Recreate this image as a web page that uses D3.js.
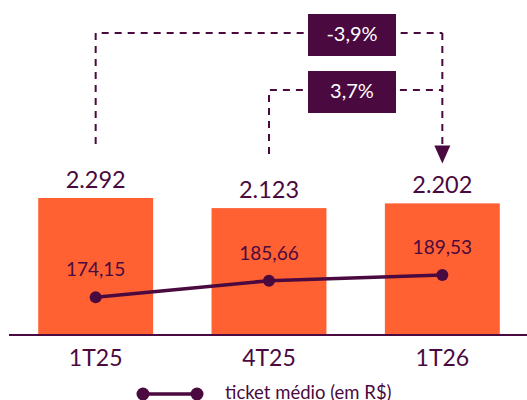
<!DOCTYPE html>
<html>
<head>
  <meta charset="utf-8">
  <style>
    body { margin: 0; background: #fff; }
    svg { display: block; font-family: Lato, "Open Sans", sans-serif; }
    .axis path { stroke: #4a0a40; stroke-width: 2; }
    .axis text { fill: #4a0a40; font-size: 23px; font-family: Lato, sans-serif; }
  </style>
</head>
<body>
  <svg id="chart" width="527" height="400"></svg>
  <script src="https://d3js.org/d3.v7.min.js"></script>
  <script>
    var categories = ['1T25', '4T25', '1T26'];
    var volume = [2292, 2123, 2202];
    var volumeLabels = ['2.292', '2.123', '2.202'];
    var ticket = [174.15, 185.66, 189.53];
    var ticketLabels = ['174,15', '185,66', '189,53'];
    var deltas = [
      { from: 0, to: 2, label: '-3,9%' },
      { from: 1, to: 2, label: '3,7%' }
    ];
    var legendLabel = 'ticket médio (em R$)';

    var orange = '#ff6133',
      purple = '#4a0a40',
      baseY = 335;

    var svg = d3.select('#chart');

    var x = d3.scaleBand()
      .domain(categories)
      .range([9, 529])
      .paddingInner(0.337)
      .paddingOuter(0.1685);

    var yBar = d3.scaleLinear()
      .domain([0, 2292])
      .range([baseY, 198]);

    var yLine = d3.scaleLinear()
      .domain([148, 200])
      .range([baseY, 260]);

    function cx(i) { return x(categories[i]) + x.bandwidth() / 2; }

    // bars
    svg.append('g')
      .selectAll('rect')
      .data(volume)
      .join('rect')
      .attr('x', (d, i) => x(categories[i]))
      .attr('y', d => yBar(d))
      .attr('width', x.bandwidth())
      .attr('height', d => baseY - yBar(d))
      .attr('fill', orange);

    // bar value labels
    svg.append('g')
      .selectAll('text')
      .data(volume)
      .join('text')
      .attr('x', (d, i) => cx(i))
      .attr('y', d => yBar(d) - 10)
      .attr('text-anchor', 'middle')
      .attr('fill', purple)
      .style('font-size', '23.5px')
      .text((d, i) => volumeLabels[i]);

    // axis
    var axis = svg.append('g')
      .attr('class', 'axis')
      .attr('transform', 'translate(0,' + baseY + ')')
      .call(d3.axisBottom(x).tickSize(0).tickPadding(15));
    axis.select('.domain').attr('d', 'M9,0H529');

    // ticket line
    var line = d3.line()
      .x((d, i) => cx(i))
      .y(d => yLine(d));

    svg.append('path')
      .datum(ticket)
      .attr('d', line)
      .attr('fill', 'none')
      .attr('stroke', purple)
      .attr('stroke-width', 3.5);

    svg.append('g')
      .selectAll('circle')
      .data(ticket)
      .join('circle')
      .attr('cx', (d, i) => cx(i))
      .attr('cy', d => yLine(d))
      .attr('r', 6)
      .attr('fill', purple);

    svg.append('g')
      .selectAll('text')
      .data(ticket)
      .join('text')
      .attr('x', (d, i) => cx(i))
      .attr('y', d => yLine(d) - 21)
      .attr('text-anchor', 'middle')
      .attr('fill', purple)
      .style('font-size', '19px')
      .text((d, i) => ticketLabels[i]);

    // delta annotations
    var levels = [33, 90];
    var boxX = 308, boxW = 88, boxH = 42;
    deltas.forEach(function (d, k) {
      var ly = levels[k];
      var x0 = cx(d.from), x1 = cx(d.to);
      var y0 = yBar(volume[d.from]) - 54;
      svg.append('path')
        .attr('d', 'M' + x0 + ',' + y0 + 'V' + ly + 'H' + x1)
        .attr('fill', 'none')
        .attr('stroke', purple)
        .attr('stroke-width', 2)
        .attr('stroke-dasharray', '7,6');
      svg.append('rect')
        .attr('x', boxX)
        .attr('y', ly - 19)
        .attr('width', boxW)
        .attr('height', boxH)
        .attr('fill', purple);
      svg.append('text')
        .attr('x', boxX + boxW / 2)
        .attr('y', ly + 8)
        .attr('text-anchor', 'middle')
        .attr('fill', '#fff')
        .style('font-size', '20px')
        .text(d.label);
    });

    // vertical into last bar, with arrow
    var ax = cx(2), tipY = yBar(volume[2]) - 40;
    svg.append('path')
      .attr('d', 'M' + ax + ',' + levels[0] + 'V' + (tipY - 16))
      .attr('fill', 'none')
      .attr('stroke', purple)
      .attr('stroke-width', 2)
      .attr('stroke-dasharray', '7,6');
    svg.append('path')
      .attr('d', 'M' + (ax - 8) + ',' + (tipY - 18) + 'L' + (ax + 8) + ',' + (tipY - 18) + 'L' + ax + ',' + tipY + 'Z')
      .attr('fill', purple);

    // legend
    var lg = svg.append('g').attr('transform', 'translate(0,394)');
    lg.append('line')
      .attr('x1', 143).attr('x2', 197)
      .attr('stroke', purple).attr('stroke-width', 3.5);
    lg.selectAll('circle')
      .data([143, 197])
      .join('circle')
      .attr('cx', d => d)
      .attr('r', 6.5)
      .attr('fill', purple);
    lg.append('text')
      .attr('x', 225)
      .attr('y', 5)
      .attr('fill', purple)
      .style('font-size', '18.5px')
      .text(legendLabel);
  </script>
</body>
</html>
